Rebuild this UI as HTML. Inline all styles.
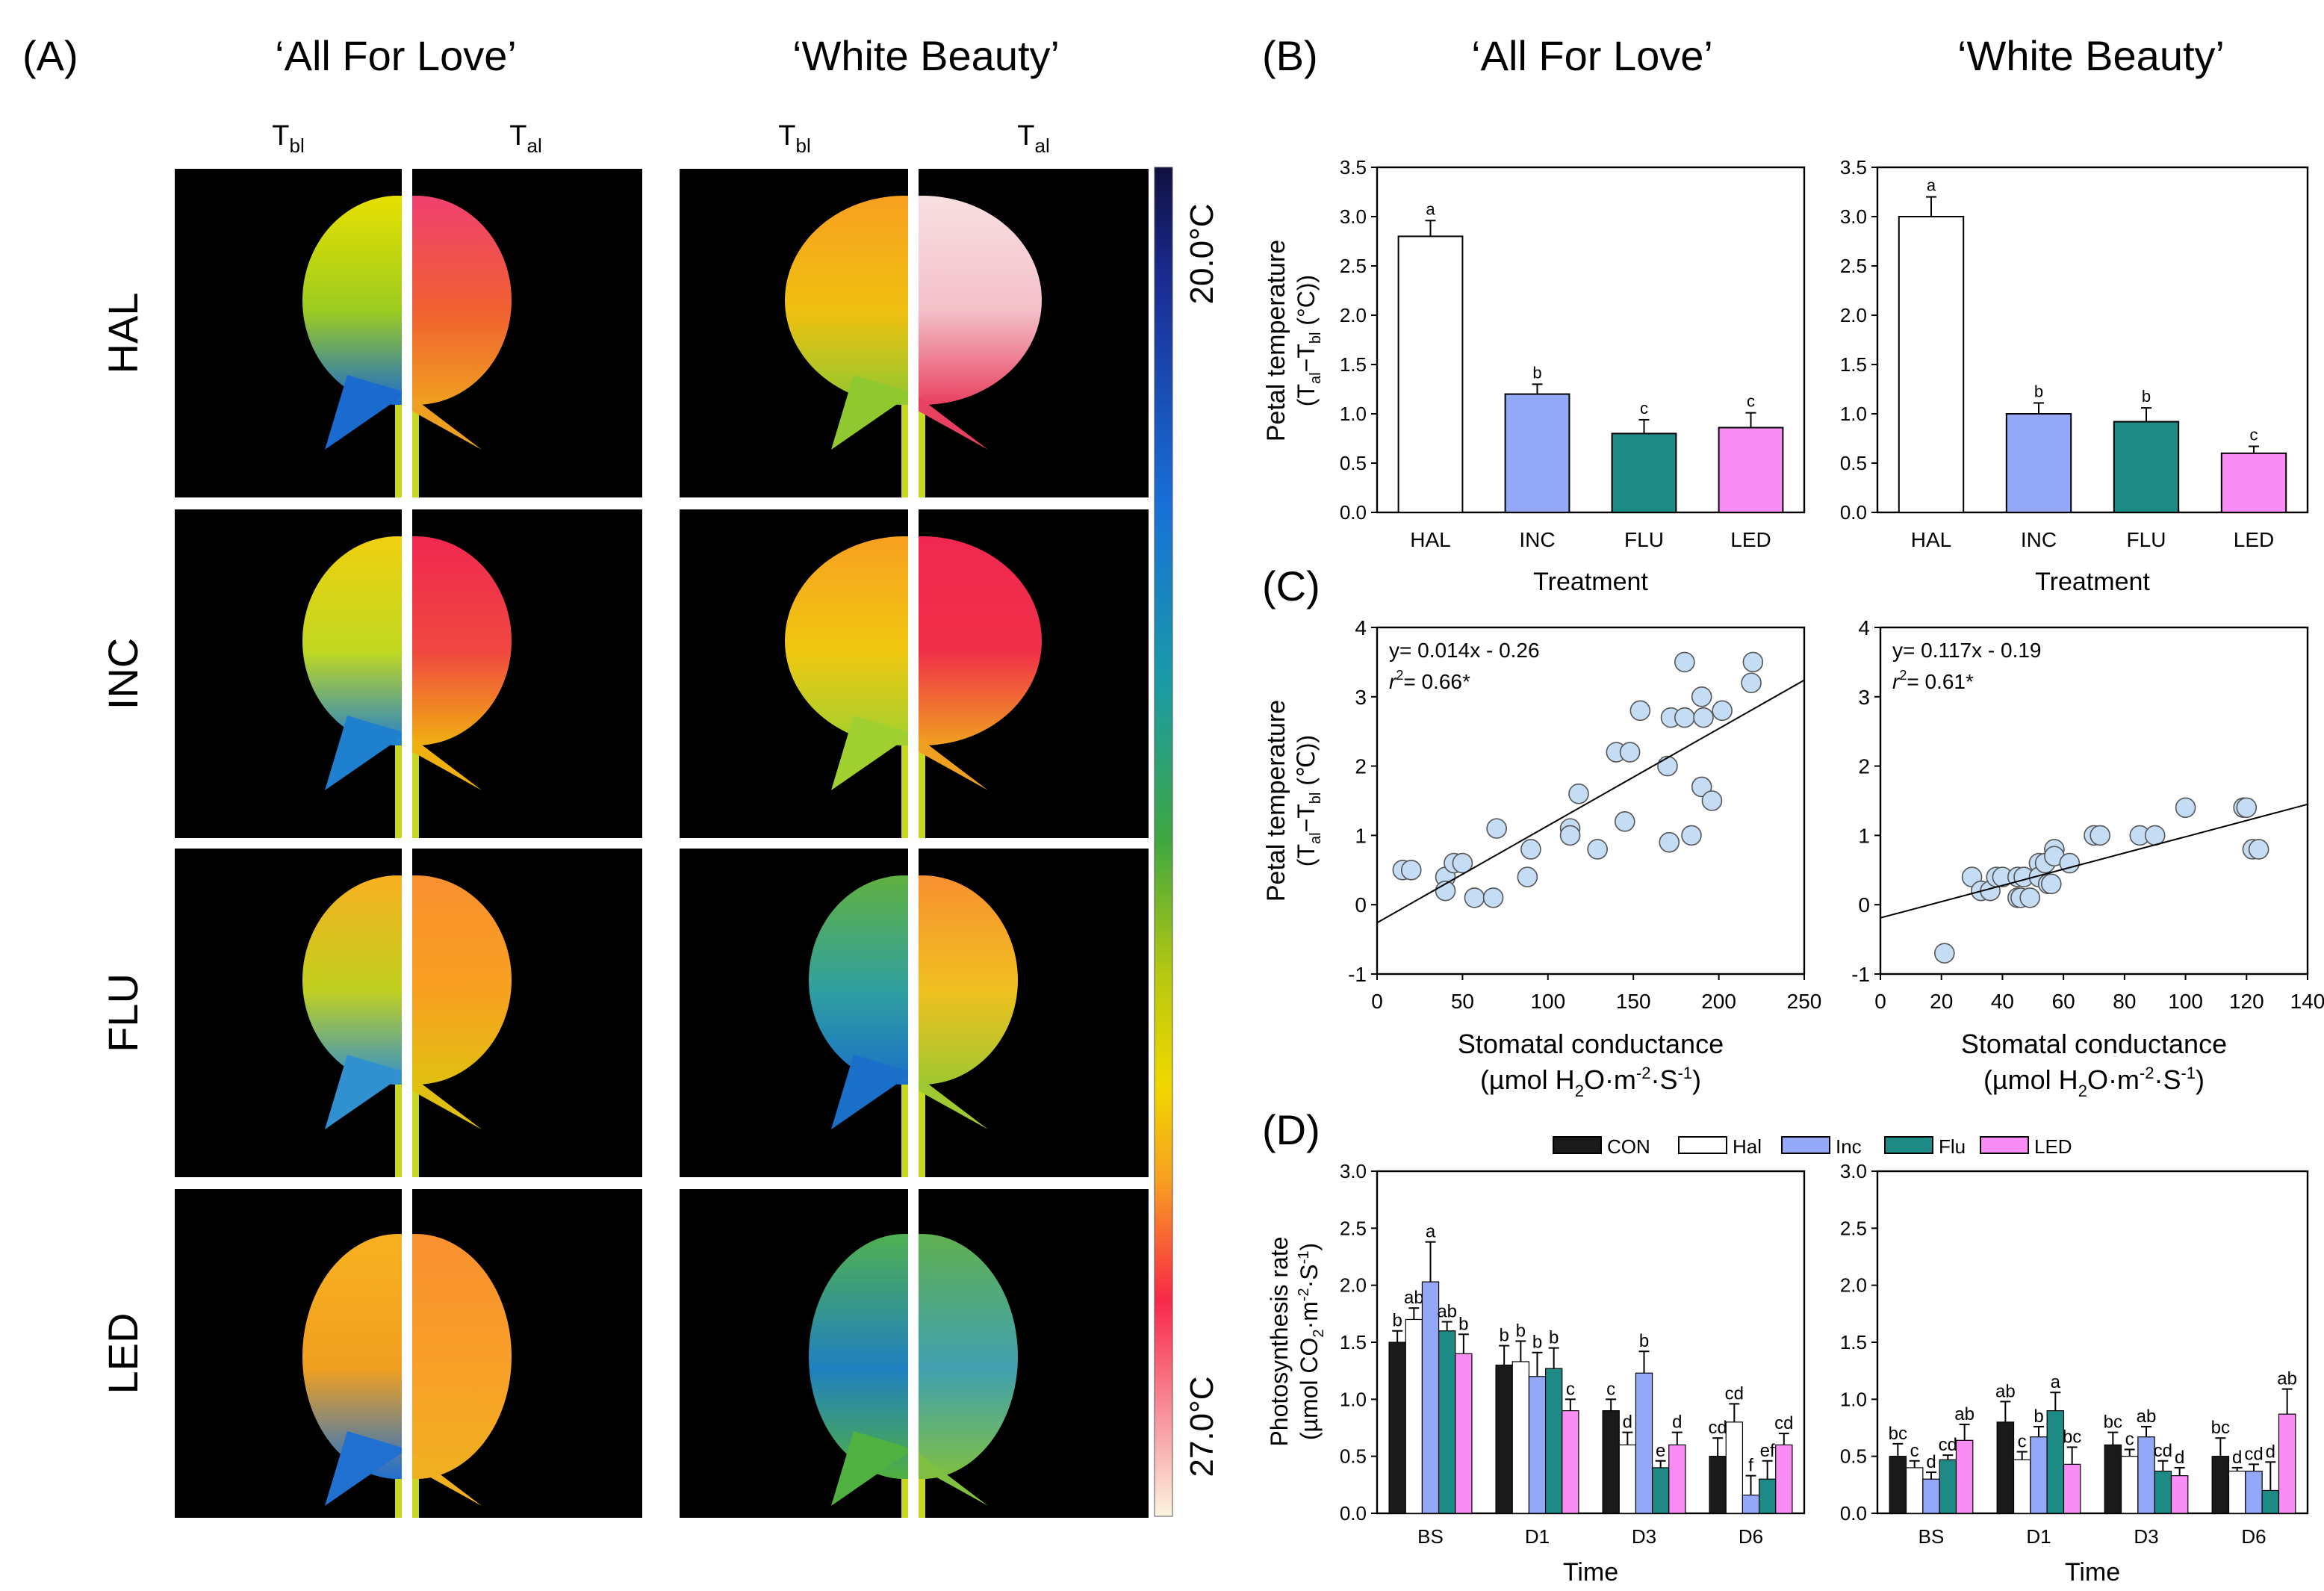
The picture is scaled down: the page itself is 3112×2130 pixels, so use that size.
<!DOCTYPE html>
<html><head><meta charset="utf-8">
<style>
html,body{margin:0;padding:0;background:#fff;}
svg{display:block;font-family:"Liberation Sans",Arial,sans-serif;}
</style></head>
<body>
<svg id="fig" xmlns="http://www.w3.org/2000/svg" width="3112" height="2130" viewBox="0 0 1556 1065">
<defs>
<linearGradient id="cbar" x1="0" y1="0" x2="0" y2="1">
<stop offset="0" stop-color="#101040"/><stop offset="0.08" stop-color="#1a2a90"/><stop offset="0.25" stop-color="#1870d8"/>
<stop offset="0.38" stop-color="#1a9aa8"/><stop offset="0.5" stop-color="#40a840"/><stop offset="0.6" stop-color="#b8c810"/>
<stop offset="0.68" stop-color="#f0d800"/><stop offset="0.75" stop-color="#f8a020"/><stop offset="0.84" stop-color="#f82848"/>
<stop offset="0.93" stop-color="#f898a0"/><stop offset="1" stop-color="#fcf4e0"/>
</linearGradient>
</defs>
<g id="panelA"></g>
<g id="charts"></g>
</svg>
<script>
// ---------- data ----------
const bCats = ['HAL','INC','FLU','LED'];
const bAFL = [2.8,1.2,0.8,0.86];
const bAFLerr = [0.16,0.1,0.14,0.15];
const bAFLlab = ['a','b','c','c'];
const bWB = [3.0,1.0,0.92,0.6];
const bWBerr = [0.2,0.11,0.14,0.07];
const bWBlab = ['a','b','b','c'];
const bColors = ['#ffffff','#94a8f8','#1e8a85','#f98df5'];
const bTicks = ['0.0','0.5','1.0','1.5','2.0','2.5','3.0','3.5'];

const cAFLx = [15,20,40,40,45,50,57,68,70,88,90,113,113,118,129,140,145,148,154,170,171,172,180,180,184,190,190,191,196,202,219,220];
const cAFLy = [0.5,0.5,0.4,0.2,0.6,0.6,0.1,0.1,1.1,0.4,0.8,1.1,1.0,1.6,0.8,2.2,1.2,2.2,2.8,2.0,0.9,2.7,3.5,2.7,1.0,3.0,1.7,2.7,1.5,2.8,3.2,3.5];
const cWBx = [21,30,33,36,38,40,45,45,46,47,49,52,52,54,55,56,57,57,62,70,72,85,90,100,119,120,122,124];
const cWBy = [-0.7,0.4,0.2,0.2,0.4,0.4,0.4,0.1,0.1,0.4,0.1,0.6,0.4,0.6,0.3,0.3,0.8,0.7,0.6,1.0,1.0,1.0,1.0,1.4,1.4,1.4,0.8,0.8];
const cAFLfit = [-0.26,0.014];
const cWBfit = [-0.19,0.0117];
const cAFLxTicks = [0,50,100,150,200,250];
const cWBxTicks = [0,20,40,60,80,100,120,140];
const cYTicks = [-1,0,1,2,3,4];

const dCats = ['BS','D1','D3','D6'];
const dSeries = ['CON','Hal','Inc','Flu','LED'];
const dColors = ['#1a1a1a','#ffffff','#94a8f8','#1e8a85','#f98df5'];
const dAFL = [[1.5,1.7,2.03,1.6,1.4],[1.3,1.33,1.2,1.27,0.9],[0.9,0.6,1.23,0.4,0.6],[0.5,0.8,0.16,0.3,0.6]];
const dAFLerr = [[0.1,0.1,0.35,0.08,0.17],[0.17,0.18,0.21,0.18,0.1],[0.1,0.11,0.19,0.06,0.11],[0.16,0.16,0.17,0.16,0.1]];
const dAFLlab = [['b','ab','a','ab','b'],['b','b','b','b','c'],['c','d','b','e','d'],['cd','cd','f','ef','cd']];
const dWB = [[0.5,0.4,0.3,0.47,0.64],[0.8,0.47,0.67,0.9,0.43],[0.6,0.5,0.67,0.37,0.33],[0.5,0.37,0.37,0.2,0.87]];
const dWBerr = [[0.11,0.06,0.06,0.04,0.14],[0.18,0.07,0.09,0.16,0.15],[0.11,0.06,0.09,0.09,0.07],[0.16,0.03,0.06,0.25,0.22]];
const dWBlab = [['bc','c','d','cd','ab'],['ab','c','b','a','bc'],['bc','c','ab','cd','d'],['bc','d','cd','d','ab']];
const dTicks = ['0.0','0.5','1.0','1.5','2.0','2.5','3.0'];

// ---------- helpers ----------
const NS='http://www.w3.org/2000/svg';
function mk(tag, attrs, parent, txt){
  const e=document.createElementNS(NS,tag);
  for(const k in attrs) e.setAttribute(k,attrs[k]);
  if(txt!==undefined) e.textContent=txt;
  parent.appendChild(e); return e;
}
const svg=document.getElementById('fig');
const defs=svg.querySelector('defs');
const charts=document.getElementById('charts');
const pA=document.getElementById('panelA');

function T(x,y,s,txt,parent,anchor,name,rot){
  const t=mk('text',{x:x,y:y,'font-size':s,'text-anchor':anchor||'middle'},parent,txt);
  if(rot) t.setAttribute('transform','rotate('+rot+' '+x+' '+y+')');
  
  
  return t;
}
// ---------- Panel A ----------
T(15,47,28,'(A)',pA,'start','panel-a-label');
T(265,47,28,'\u2018All For Love\u2019',pA,'middle','cultivar-title-afl');
T(620,47,28,'\u2018White Beauty\u2019',pA,'middle','cultivar-title-wb');
T(845,47,28,'(B)',charts,'start','panel-b-label');
T(1066,47,28,'\u2018All For Love\u2019',charts,'middle','panel-b-title-afl');
T(1400,47,28,'\u2018White Beauty\u2019',charts,'middle','panel-b-title-wb');
[[193,'bl'],[352,'al'],[532,'bl'],[692,'al']].forEach((p,i)=>{
  const t=T(p[0],97,19,'T',pA,'middle','column-label-'+i);
  mk('tspan',{'font-size':13,dy:5},t,p[1]);
});
const cols=[[117,269],[276,430],[455,608],[615,769]];
const rows=[[113,333],[341,561],[568,788],[796,1016]];
const rowNames=['HAL','INC','FLU','LED'];
const flowerCols=[
 [[['#e8e000','#9ccc20','#1a6ad0'],['#f04070','#f06030','#f0a020']],[['#f8a020','#f0c010','#90c830'],['#f8e0e0','#f4c0c8','#e84060']]],
 [[['#f0d010','#c0d820','#2080d0'],['#f02850','#f04840','#f0b010']],[['#f8a020','#f0c810','#a0d030'],['#f02850','#f03048','#f0a020']]],
 [[['#f8b020','#c0d020','#3090d0'],['#f89030','#f8a020','#e0c010']],[['#60b040','#30a0a0','#1a70c8'],['#f89030','#f0c020','#a0c830']]],
 [[['#f8b020','#f0a020','#2070d0'],['#f89030','#f8a028','#f0b020']],[['#50b050','#2080c0','#50b040'],['#60b050','#40a0b0','#80c040']]]
];
let gid=0;
rows.forEach((r,ri)=>{
  T(92,(r[0]+r[1])/2,28,rowNames[ri],pA,'middle','row-label-'+rowNames[ri].toLowerCase(),-90);
  for(let pair=0;pair<2;pair++){
    const gap=(cols[pair*2][1]+cols[pair*2+1][0])/2;
    for(let h=0;h<2;h++){
      const c=cols[pair*2+h];
      const g=mk('g',{},pA);
      
      
      const cid='clip'+(gid++);
      const cp=mk('clipPath',{id:cid},defs);
      mk('rect',{x:c[0],y:r[0],width:c[1]-c[0],height:r[1]-r[0]},cp);
      g.setAttribute('clip-path','url(#'+cid+')');
      mk('rect',{x:c[0],y:r[0],width:c[1]-c[0],height:r[1]-r[0],fill:'#000'},g);
      const cols3=flowerCols[ri][pair][h];
      const lg=mk('linearGradient',{id:'fg'+gid,x1:0,y1:0,x2:0,y2:1},defs);
      mk('stop',{offset:0,'stop-color':cols3[0]},lg);
      mk('stop',{offset:0.55,'stop-color':cols3[1]},lg);
      mk('stop',{offset:1,'stop-color':cols3[2]},lg);
      mk('rect',{x:gap-8,y:r[0]+120,width:16,height:110,fill:'#c8d820'},g);
      const cy=r[0]+(ri==3?112:88), ry=(ri==3?82:70);
      const rx=(pair==1&&ri<2)?80:64;
      mk('ellipse',{cx:gap+(h?6:-6),cy:cy,rx:rx,ry:ry,fill:'url(#fg'+gid+')'},g);
      mk('path',{d:'M'+(gap-40)+' '+(cy+50)+' L'+(gap+(h?50:-55))+' '+(cy+100)+' L'+gap+' '+(cy+62)+' Z',fill:cols3[2]},g);
    }
  }
});
const cb=mk('rect',{x:773,y:112,width:12,height:903,fill:'url(#cbar)',stroke:'#555','stroke-width':0.5},pA);


T(812,170,22,'20.0°C',pA,'middle','colorbar-max-label',-90);
T(812,955,22,'27.0°C',pA,'middle','colorbar-min-label',-90);

// ---------- bar chart helper ----------
function linear(d0,d1,r0,r1){return v=>r0+(v-d0)/(d1-d0)*(r1-r0);}
function frame(x0,x1,y0,y1,name){
  const r=mk('rect',{x:x0,y:y0,width:x1-x0,height:y1-y0,fill:'none',stroke:'#000','stroke-width':1.2},charts);
  
  
}
function yTicks(x0,ys,vals,labels,prefix,fs){
  vals.forEach((v,i)=>{
    mk('line',{x1:x0,x2:x0-4,y1:ys(v),y2:ys(v),stroke:'#000'},charts);
    T(x0-7,ys(v)+4.5,fs||13,labels[i],charts,'end',prefix+'-ytick-'+i);
  });
}
function errBar(x,yTop,yErr,name){
  const g=mk('g',{stroke:'#000','stroke-width':1},charts);
  
  
  mk('line',{x1:x,x2:x,y1:yTop,y2:yErr},g);
  mk('line',{x1:x-3.5,x2:x+3.5,y1:yErr,y2:yErr},g);
}
function panelB(x0,x1,vals,errs,labs,pfx){
  const y0=112,y1=343;
  const ys=linear(0,3.5,y1,y0);
  frame(x0,x1,y0,y1,pfx+'-frame');
  yTicks(x0,ys,[0,0.5,1,1.5,2,2.5,3,3.5],bTicks,pfx,13);
  const step=(x1-x0)/4, bw=step*0.6;
  bCats.forEach((c,i)=>{
    const cx=x0+step*(i+0.5);
    const b=mk('rect',{x:cx-bw/2,y:ys(vals[i]),width:bw,height:y1-ys(vals[i]),fill:bColors[i],stroke:'#000','stroke-width':1},charts);
    
    
    errBar(cx,ys(vals[i]),ys(vals[i]+errs[i]),pfx+'-error-'+c.toLowerCase());
    T(cx,ys(vals[i]+errs[i])-4,11,labs[i],charts,'middle',pfx+'-sig-'+c.toLowerCase());
    T(cx,366,14,c,charts,'middle',pfx+'-xtick-'+c.toLowerCase());
  });
  T((x0+x1)/2,395,17,'Treatment',charts,'middle',pfx+'-x-title');
}
panelB(922,1208,bAFL,bAFLerr,bAFLlab,'b-afl');
panelB(1257,1545,bWB,bWBerr,bWBlab,'b-wb');
function yTitle2(x,y,line1,name){
  T(x,y,17,line1,charts,'middle',name+'-line1',-90);
  return T(x+20,y,16,'',charts,'middle',name+'-line2',-90);
}
let yt=yTitle2(860,228,'Petal temperature','b-y-title');
(function(t){mk('tspan',{},t,'(T');mk('tspan',{'font-size':10,dy:4},t,'al');mk('tspan',{dy:-4},t,'\u2212T');mk('tspan',{'font-size':10,dy:4},t,'bl');mk('tspan',{dy:-4},t,' (°C))');})(yt);

// ---------- Panel C ----------
T(845,402,28,'(C)',charts,'start','panel-c-label');
function panelC(x0,x1,xmax,xs_,ys_,fit,xt,pfx,eq,r2){
  const y0=420,y1=652;
  const X=linear(0,xmax,x0,x1), Y=linear(-1,4,y1,y0);
  frame(x0,x1,y0,y1,pfx+'-frame');
  cYTicks.forEach((v,i)=>{
    mk('line',{x1:x0,x2:x0-4,y1:Y(v),y2:Y(v),stroke:'#000'},charts);
    T(x0-7,Y(v)+5,14,String(v),charts,'end',pfx+'-ytick-'+i);
  });
  xt.forEach((v,i)=>{
    mk('line',{x1:X(v),x2:X(v),y1:y1,y2:y1+4,stroke:'#000'},charts);
    T(X(v),675,14,String(v),charts,'middle',pfx+'-xtick-'+i);
  });
  xs_.forEach((v,i)=>{
    const c=mk('circle',{cx:X(v),cy:Y(ys_[i]),r:6.5,fill:'#c4dcf4',stroke:'#555','stroke-width':0.8},charts);
    
    
  });
  const l=mk('line',{x1:X(0),y1:Y(fit[0]),x2:X(xmax),y2:Y(fit[0]+fit[1]*xmax),stroke:'#000','stroke-width':1},charts);
  
  
  T(x0+8,440,14,eq,charts,'start',pfx+'-equation');
  const t=T(x0+8,461,14,'',charts,'start',pfx+'-r-squared');
  mk('tspan',{'font-style':'italic'},t,'r');mk('tspan',{'font-size':9,dy:-6},t,'2');mk('tspan',{dy:6},t,'= '+r2+'*');
  T((x0+x1)/2,705,18,'Stomatal conductance',charts,'middle',pfx+'-x-title-1');
  const t2=T((x0+x1)/2,729,18,'',charts,'middle',pfx+'-x-title-2');
  mk('tspan',{},t2,'(µmol H');mk('tspan',{'font-size':11,dy:5},t2,'2');mk('tspan',{dy:-5},t2,'O·m');
  mk('tspan',{'font-size':11,dy:-7},t2,'-2');mk('tspan',{dy:7},t2,'·S');mk('tspan',{'font-size':11,dy:-7},t2,'-1');mk('tspan',{dy:7},t2,')');
}
panelC(922,1208,250,cAFLx,cAFLy,cAFLfit,cAFLxTicks,'c-afl','y= 0.014x - 0.26','0.66');
panelC(1259,1545,140,cWBx,cWBy,cWBfit,cWBxTicks,'c-wb','y= 0.117x - 0.19','0.61');
yt=yTitle2(860,536,'Petal temperature','c-y-title');
(function(t){mk('tspan',{},t,'(T');mk('tspan',{'font-size':10,dy:4},t,'al');mk('tspan',{dy:-4},t,'\u2212T');mk('tspan',{'font-size':10,dy:4},t,'bl');mk('tspan',{dy:-4},t,' (\u2103))');})(yt);

// ---------- Panel D ----------
T(845,766,28,'(D)',charts,'start','panel-d-label');
const legX=[1040,1124,1193,1262,1326];
dSeries.forEach((s,i)=>{
  const g=mk('g',{},charts);
  
  
  mk('rect',{x:legX[i],y:761,width:32,height:11,fill:dColors[i],stroke:'#000','stroke-width':1},g);
  mk('text',{x:legX[i]+36,y:772,'font-size':13},g,s);
});
function panelD(x0,x1,vals,errs,labs,pfx){
  const y0=784,y1=1013;
  const Y=linear(0,3,y1,y0);
  frame(x0,x1,y0,y1,pfx+'-frame');
  yTicks(x0,Y,[0,0.5,1,1.5,2,2.5,3],dTicks,pfx,13);
  const step=(x1-x0)/4, bw=step*0.155;
  dCats.forEach((c,gi)=>{
    const cx=x0+step*(gi+0.5);
    T(cx,1033,13,c,charts,'middle',pfx+'-xtick-'+c.toLowerCase());
    dSeries.forEach((s,si)=>{
      const bx=cx+(si-2)*bw;
      const v=vals[gi][si];
      const b=mk('rect',{x:bx-bw/2,y:Y(v),width:bw,height:y1-Y(v),fill:dColors[si],stroke:'#000','stroke-width':0.6},charts);
      
      
      errBar(bx,Y(v),Y(v+errs[gi][si]),pfx+'-error-'+c.toLowerCase()+'-'+s.toLowerCase());
      T(bx,Y(v+errs[gi][si])-3,12,labs[gi][si],charts,'middle',pfx+'-sig-'+c.toLowerCase()+'-'+s.toLowerCase());
    });
  });
  T((x0+x1)/2,1058,17,'Time',charts,'middle',pfx+'-x-title');
}
panelD(922,1208,dAFL,dAFLerr,dAFLlab,'d-afl');
panelD(1257,1545,dWB,dWBerr,dWBlab,'d-wb');
T(862,898,16,'Photosynthesis rate',charts,'middle','d-y-title-line1',-90);
yt=T(882,898,16,'',charts,'middle','d-y-title-line2',-90);
mk('tspan',{},yt,'(µmol CO');mk('tspan',{'font-size':10,dy:4},yt,'2');mk('tspan',{dy:-4},yt,'·m');
mk('tspan',{'font-size':10,dy:-6},yt,'-2');mk('tspan',{dy:6},yt,'·S');mk('tspan',{'font-size':10,dy:-6},yt,'-1');mk('tspan',{dy:6},yt,')');
</script>
</body></html>
